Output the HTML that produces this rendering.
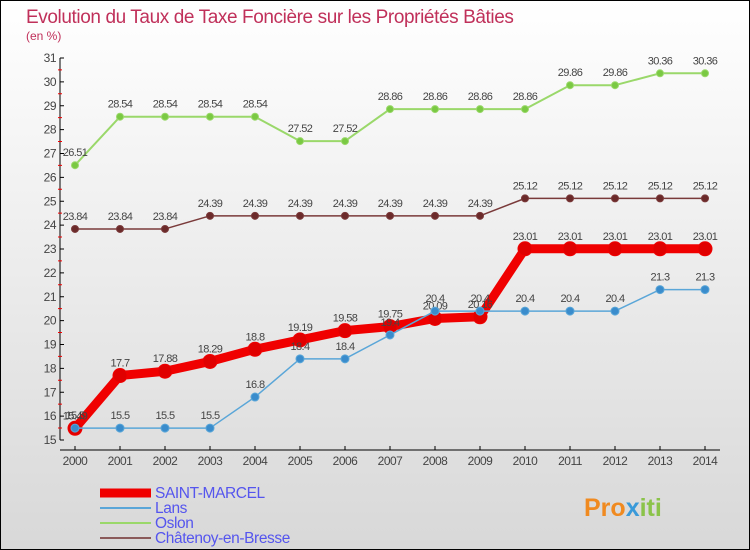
<!DOCTYPE html>
<html><head><meta charset="utf-8"><style>
body{margin:0}
svg{display:block;font-family:"Liberation Sans",sans-serif}
</style></head><body>
<svg id="c" width="750" height="550" xmlns="http://www.w3.org/2000/svg">
<defs><linearGradient id="bg" x1="0" y1="0" x2="0" y2="1"><stop offset="0" stop-color="#ffffff"/><stop offset="1" stop-color="#d8d8d8"/></linearGradient></defs>
<rect x="0.5" y="0.5" width="749" height="549" fill="url(#bg)" stroke="#000"/>
<text x="26" y="23" font-size="19" letter-spacing="-0.4" fill="#c0305a">Evolution du Taux de Taxe Foncière sur les Propriétés Bâties</text>
<text x="26" y="40" font-size="12" fill="#c0305a">(en %)</text>
<g id="axes"></g>
<g id="series"></g>
<g id="legend"></g>
<text x="584" y="516" font-size="25" font-weight="bold" fill="#f08a20">Pro<tspan fill="#3a9ad9">x</tspan><tspan fill="#8bc34a">iti</tspan></text>
</svg>
<script>
const years=[2000,2001,2002,2003,2004,2005,2006,2007,2008,2009,2010,2011,2012,2013,2014];
const yTicks=[15,16,17,18,19,20,21,22,23,24,25,26,27,28,29,30,31];
const saintMarcel=[15.49,17.7,17.88,18.29,18.8,19.19,19.58,19.75,20.09,20.16,23.01,23.01,23.01,23.01,23.01];
const lans=[15.5,15.5,15.5,15.5,16.8,18.4,18.4,19.4,20.4,20.4,20.4,20.4,20.4,21.3,21.3];
const oslon=[26.51,28.54,28.54,28.54,28.54,27.52,27.52,28.86,28.86,28.86,28.86,29.86,29.86,30.36,30.36];
const chatenoy=[23.84,23.84,23.84,24.39,24.39,24.39,24.39,24.39,24.39,24.39,25.12,25.12,25.12,25.12,25.12];
const NS="http://www.w3.org/2000/svg";
const xS=i=>75+i*45;
const yS=v=>440-(v-15)*23.875;
function mk(tag,attrs,parent,text){const e=document.createElementNS(NS,tag);for(const k in attrs)e.setAttribute(k,attrs[k]);if(text!==undefined)e.textContent=text;parent.appendChild(e);return e;}
const ax=document.getElementById('axes');
let e=mk('line',{x1:60,y1:58,x2:60,y2:440,stroke:'#000','stroke-width':1},ax);


e=mk('line',{x1:60,y1:450,x2:720,y2:450,stroke:'#000','stroke-width':1},ax);


yTicks.forEach((t,i)=>{
  const y=yS(t);
  mk('line',{x1:60,y1:y,x2:64,y2:y,stroke:'#000'},ax);
  if(i<yTicks.length-1) mk('line',{x1:58,y1:y-12,x2:62,y2:y-12,stroke:'#e00'},ax);
  const tx=mk('text',{x:56,y:y+4,'font-size':12,'text-anchor':'end',fill:'#444','letter-spacing':'-0.5'},ax,String(t));
  
  
});
years.forEach((yr,i)=>{
  const x=xS(i);
  mk('line',{x1:x,y1:446,x2:x,y2:450,stroke:'#000'},ax);
  const tx=mk('text',{x:x,y:465,'font-size':12,'text-anchor':'middle',fill:'#444','letter-spacing':'-0.5'},ax,String(yr));
  
  
});
const sg=document.getElementById('series');
function series(vals,color,lw,r,dot,name){
  const g=mk('g',{},sg);
  
  
  mk('polyline',{points:vals.map((v,i)=>xS(i)+','+yS(v)).join(' '),fill:'none',stroke:color,'stroke-width':lw,'stroke-linejoin':'round'},g);
  vals.forEach((v,i)=>{
    const c=mk('circle',{cx:xS(i),cy:yS(v),r:r,fill:dot,stroke:color,'stroke-width':1},g);
    
    
    const t=mk('text',{x:xS(i),y:yS(v)-9,'font-size':11,'text-anchor':'middle',fill:'#444','letter-spacing':'-0.6'},g,String(v));
    
    
  });
}
series(oslon,'#9ad86a',2,3.5,'#7ac943','oslon-series');
series(chatenoy,'#7a3a3a',1.5,3.5,'#6b2a2a','chatenoy-series');
series(saintMarcel,'#f00000',9,7,'#e00000','saint-marcel-series');
series(lans,'#5aa6d8',1.5,4,'#3a8ccc','lans-series');
const lg=document.getElementById('legend');
[['SAINT-MARCEL','#f00000',9],['Lans','#5aa6d8',2],['Oslon','#9ad86a',2],['Châtenoy-en-Bresse','#8a5a5a',2]].forEach((d,i)=>{
  const y=493+i*15;
  const g=mk('g',{},lg);
  
  
  mk('line',{x1:100,y1:y,x2:151,y2:y,stroke:d[1],'stroke-width':d[2]},g);
  mk('text',{x:155,y:y+5,'font-size':15.5,fill:'#5555ee','letter-spacing':'-0.4'},g,d[0]);
});
</script>
</body></html>
